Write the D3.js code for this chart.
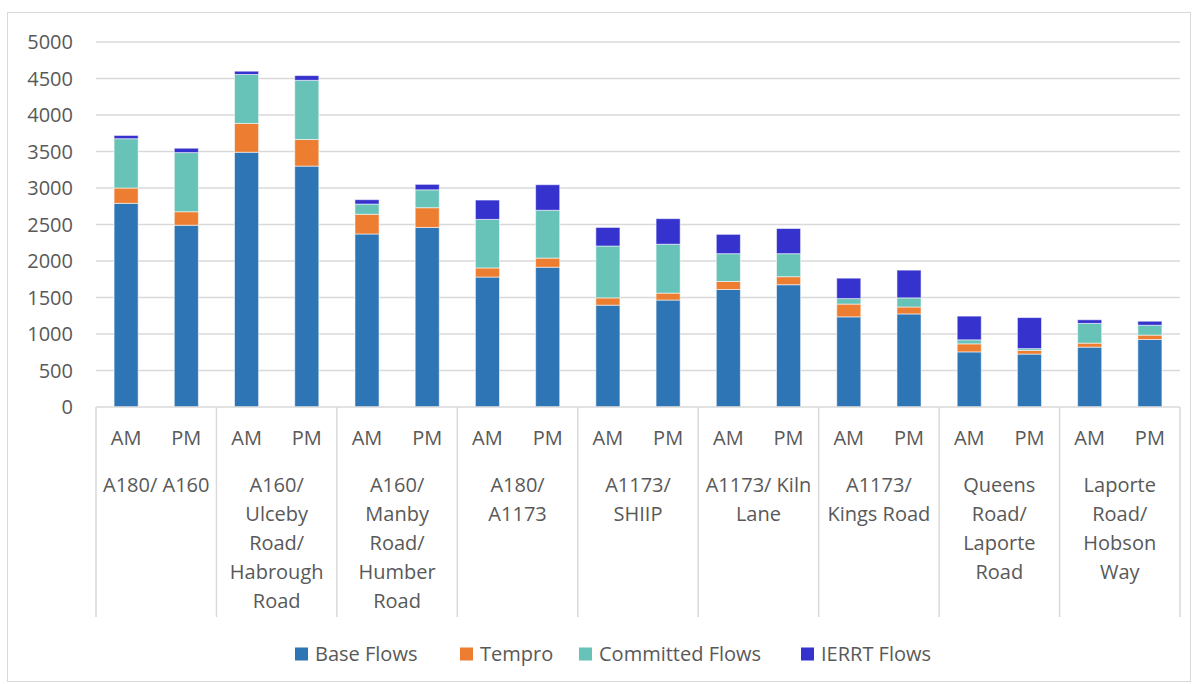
<!DOCTYPE html>
<html><head><meta charset="utf-8">
<script src="https://cdn.jsdelivr.net/npm/d3@7"></script>
<style>body{margin:0;background:#fff}svg{display:block}text{font-family:"Open Sans",sans-serif;fill:#595959}</style>
</head><body><svg id="c" width="1199" height="684"></svg>
<script>
const categories = ["A180/ A160","A160/ Ulceby Road/ Habrough Road","A160/ Manby Road/ Humber Road","A180/ A1173","A1173/ SHIIP","A1173/ Kiln Lane","A1173/ Kings Road","Queens Road/ Laporte Road","Laporte Road/ Hobson Way"];
const categoryLines = [["A180/ A160"],["A160/","Ulceby","Road/","Habrough","Road"],["A160/","Manby","Road/","Humber","Road"],["A180/","A1173"],["A1173/","SHIIP"],["A1173/ Kiln","Lane"],["A1173/","Kings Road"],["Queens","Road/","Laporte","Road"],["Laporte","Road/","Hobson","Way"]];
const periods = ["AM","PM"];
const seriesNames = ["Base Flows","Tempro","Committed Flows","IERRT Flows"];
const baseFlows      = [2790,2490,3490,3300,2370,2460,1780,1915,1395,1465,1610,1675,1235,1275,755,725,820,925];
const tempro         = [210,185,395,365,270,270,125,125,100,95,110,110,175,95,110,50,55,60];
const committedFlows = [675,810,670,810,140,245,665,655,710,670,380,315,75,125,55,25,270,135];
const ierrtFlows     = [45,60,45,65,60,75,265,350,255,350,265,345,280,380,325,425,50,55];
const yTicks = [0,500,1000,1500,2000,2500,3000,3500,4000,4500,5000];
const colors = ["#2E75B6","#ED7D31","#67C2B7","#3532CD"];

const svg = d3.select("#c");
const M = {left:96, right:1180, top:42, bottom:407};
const FS = 20;
const keys = [];
categories.forEach((c,i)=>periods.forEach(p=>keys.push(i+"|"+p)));
const rows = keys.map((k,i)=>({key:k, s0:baseFlows[i], s1:tempro[i], s2:committedFlows[i], s3:ierrtFlows[i]}));
const stack = d3.stack().keys(["s0","s1","s2","s3"])(rows);

const x = d3.scaleBand().domain(keys).range([M.left,M.right]).paddingInner(0.6).paddingOuter(0.3);
const xg = d3.scaleBand().domain(categories).range([M.left,M.right]);
const y = d3.scaleLinear().domain([0,5000]).range([M.bottom,M.top]);

svg.append("rect").attr("x",7.5).attr("y",12.5).attr("width",1183).attr("height",669).attr("fill","none").attr("stroke","#d9d9d9").attr("stroke-width",1);

svg.append("g").selectAll("line").data(yTicks.filter(d=>d>0)).join("line")
  .attr("x1",M.left).attr("x2",M.right).attr("y1",d=>y(d)).attr("y2",d=>y(d))
  .attr("stroke","#d9d9d9").attr("stroke-width",1.5);

svg.append("g").selectAll("text").data(yTicks).join("text")
  .attr("x",73).attr("y",d=>y(d)).attr("dy","0.36em").attr("text-anchor","end")
  .attr("font-size",FS).text(d=>d);

svg.append("g").selectAll("g").data(stack).join("g").attr("fill",(d,i)=>colors[i])
  .selectAll("rect").data(d=>d).join("rect")
  .attr("x",d=>x(d.data.key)).attr("width",x.bandwidth())
  .attr("y",d=>y(d[1])).attr("height",d=>y(d[0])-y(d[1]))
  .attr("stroke","#ffffff").attr("stroke-opacity",0.55).attr("stroke-width",1);

svg.append("line").attr("x1",M.left).attr("x2",M.right).attr("y1",M.bottom).attr("y2",M.bottom)
  .attr("stroke","#d9d9d9").attr("stroke-width",1.5);
const seps = categories.map(c=>xg(c)).concat([M.right]);
svg.append("g").selectAll("line").data(seps).join("line")
  .attr("x1",d=>d).attr("x2",d=>d).attr("y1",M.bottom).attr("y2",617)
  .attr("stroke","#d9d9d9").attr("stroke-width",1.5);

svg.append("g").selectAll("text").data(keys).join("text")
  .attr("x",d=>x(d)+x.bandwidth()/2).attr("y",438).attr("dy","0.36em").attr("text-anchor","middle")
  .attr("font-size",FS).text(d=>d.split("|")[1]);

const cg = svg.append("g").selectAll("text").data(categories).join("text")
  .attr("x",d=>xg(d)+xg.bandwidth()/2).attr("y",485).attr("text-anchor","middle").attr("font-size",FS);
cg.selectAll("tspan").data((d,i)=>categoryLines[i]).join("tspan")
  .attr("x",function(){return this.parentNode.getAttribute("x");})
  .attr("dy",(d,i)=>i===0?"0.36em":"29px").text(d=>d);

const legX = [295,460,579,801];
const lg = svg.append("g").selectAll("g").data(seriesNames).join("g")
  .attr("transform",(d,i)=>`translate(${legX[i]},654)`);
lg.append("rect").attr("x",0).attr("y",-6.5).attr("width",13).attr("height",13).attr("fill",(d,i)=>colors[i]);
lg.append("text").attr("x",20).attr("dy","0.36em").attr("font-size",FS).text(d=>d);
</script></body></html>
